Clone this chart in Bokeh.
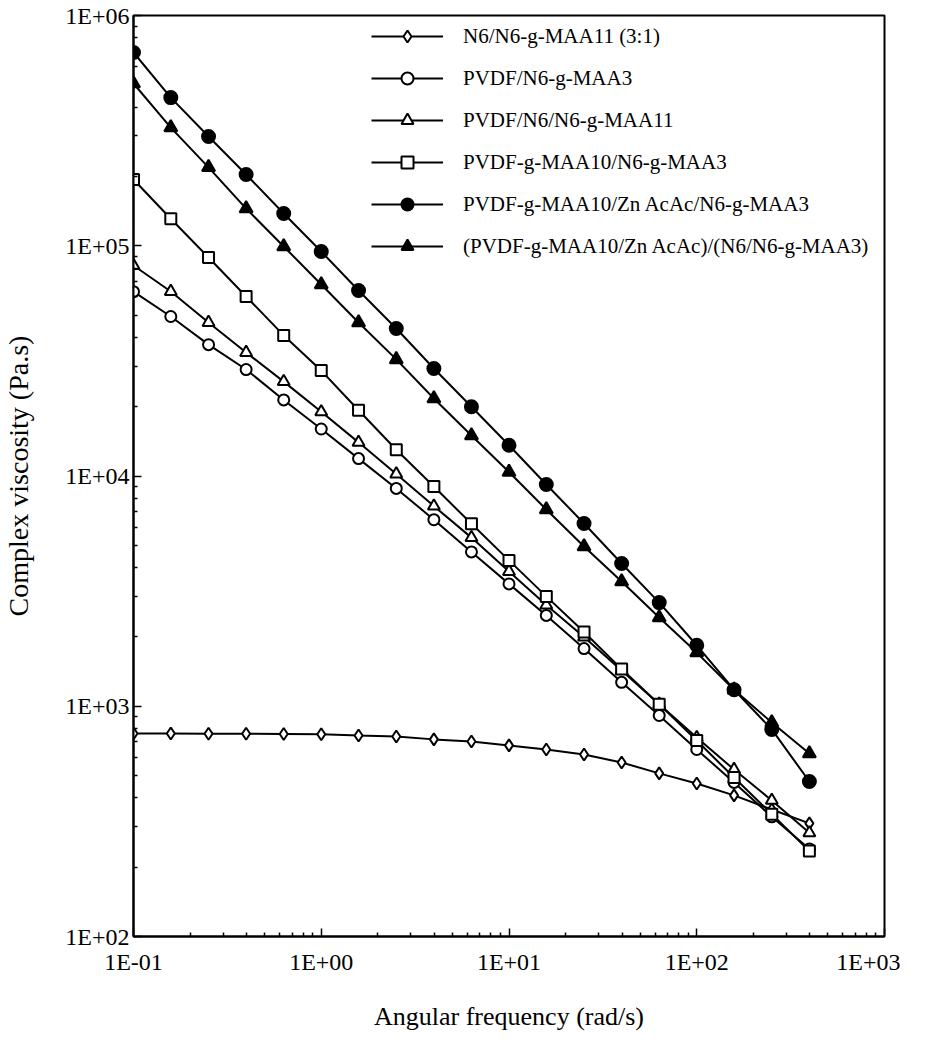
from bokeh.plotting import figure
from bokeh.models import FixedTicker, Legend, LegendItem
from bokeh.embed import file_html
from bokeh.resources import INLINE

# ---- data ----
freq = [0.1, 0.158, 0.251, 0.398, 0.631, 1.0, 1.58, 2.51, 3.98, 6.31,
        10.0, 15.8, 25.1, 39.8, 63.1, 100.0, 158.0, 251.0, 398.0]

n6_blend = [762, 762, 760, 760, 758, 756, 746, 739, 718, 703,
            676, 649, 617, 570, 511, 462, 410, 356, 310]
pvdf_n6maa3 = [63200, 49300, 37200, 29000, 21400, 16000, 11900, 8830, 6460, 4680,
               3400, 2480, 1780, 1270, 912, 649, 467, 331, 240]
pvdf_n6_n6maa11 = [82100, 63300, 46400, 34400, 25700, 19000, 14000, 10200, 7400, 5400,
                   3850, 2750, 2000, 1430, 1020, 731, 531, 390, 282]
pvdfmaa10_n6maa3 = [194000, 131000, 88900, 60200, 40800, 28700, 19300, 13000, 9000, 6200,
                    4300, 3000, 2100, 1450, 1020, 710, 490, 340, 235]
pvdfmaa10_zn_n6maa3 = [691000, 440000, 298000, 204000, 138000, 94400, 63900, 43700, 29300, 20000,
                       13600, 9190, 6220, 4170, 2820, 1840, 1180, 793, 471]
pvdfmaa10zn_n6n6maa3 = [507000, 326000, 219000, 145000, 99300, 67900, 46400, 32100, 21700, 15000,
                        10400, 7150, 4940, 3480, 2430, 1710, 1180, 850, 623]

series_labels = [
    "N6/N6-g-MAA11 (3:1)",
    "PVDF/N6-g-MAA3",
    "PVDF/N6/N6-g-MAA11",
    "PVDF-g-MAA10/N6-g-MAA3",
    "PVDF-g-MAA10/Zn AcAc/N6-g-MAA3",
    "(PVDF-g-MAA10/Zn AcAc)/(N6/N6-g-MAA3)",
]
series_values = [n6_blend, pvdf_n6maa3, pvdf_n6_n6maa11, pvdfmaa10_n6maa3,
                 pvdfmaa10_zn_n6maa3, pvdfmaa10zn_n6n6maa3]

x_ticks = [0.1, 1.0, 10.0, 100.0, 1000.0]
x_tick_labels = ["1E-01", "1E+00", "1E+01", "1E+02", "1E+03"]
y_ticks = [100.0, 1000.0, 10000.0, 100000.0, 1000000.0]
y_tick_labels = ["1E+02", "1E+03", "1E+04", "1E+05", "1E+06"]

# ---- styles ----
markers = ["diamond", "circle", "triangle", "square", "circle", "triangle"]
fills = ["white", "white", "white", "white", "black", "black"]
msizes = [12, 11, 12, 11, 13, 13]

FONT = "Liberation Serif"

p = figure(width=900, height=1040, x_axis_type="log", y_axis_type="log",
           x_range=(0.1, 1000), y_range=(100, 1e6),
           output_backend="svg", toolbar_location=None,
           min_border_left=133, min_border_right=16,
           min_border_top=15, min_border_bottom=104)

p.grid.visible = False
p.outline_line_color = "black"
p.outline_line_width = 2
p.background_fill_color = "white"
p.border_fill_color = "white"

items = []
for lab, vals, mk, fc, ms in zip(series_labels, series_values, markers, fills, msizes):
    lr = p.line(freq, vals, line_color="black", line_width=2)
    sr = p.scatter(freq, vals, marker=mk, size=ms, fill_color=fc,
                   line_color="black", line_width=2)
    items.append(LegendItem(label=lab, renderers=[lr, sr]))

legend = Legend(items=items, location=(238, 675), glyph_width=72, glyph_height=30,
                label_standoff=20, spacing=12, padding=0, margin=0,
                label_height=20,
                border_line_color=None, background_fill_alpha=0,
                label_text_font=FONT, label_text_font_size="21px",
                label_text_color="black")
p.add_layout(legend)

def decade_minors(majors):
    out = []
    for m in majors[:-1]:
        for k in range(2, 10):
            out.append(m * k)
    return out

p.xaxis.ticker = FixedTicker(ticks=x_ticks, minor_ticks=decade_minors(x_ticks))
p.yaxis.ticker = FixedTicker(ticks=y_ticks, minor_ticks=decade_minors(y_ticks))
p.xaxis.major_label_overrides = dict(zip(x_ticks, x_tick_labels))
p.yaxis.major_label_overrides = dict(zip(y_ticks, y_tick_labels))

for ax in (p.xaxis, p.yaxis):
    ax.axis_line_color = "black"
    ax.axis_line_width = 2
    ax.major_tick_in = 8
    ax.major_tick_out = 0
    ax.minor_tick_in = 4
    ax.minor_tick_out = 0
    ax.major_tick_line_color = "black"
    ax.minor_tick_line_color = "black"
    ax.major_tick_line_width = 1.5
    ax.minor_tick_line_width = 1.5
    ax.major_label_text_font = FONT
    ax.major_label_text_font_size = "24px"
    ax.major_label_text_color = "black"
    ax.axis_label_text_font = FONT
    ax.axis_label_text_font_style = "normal"
    ax.axis_label_text_color = "black"

p.xaxis.axis_label_text_font_size = "26px"
p.yaxis.axis_label_text_font_size = "28px"
p.xaxis.axis_label = "Angular frequency (rad/s)"
p.yaxis.axis_label = "Complex viscosity (Pa.s)"
p.xaxis.major_label_standoff = 12
p.yaxis.major_label_standoff = 4
p.xaxis.axis_label_standoff = 24
p.yaxis.axis_label_standoff = 28

open("out.html", "w").write(file_html(p, INLINE))
